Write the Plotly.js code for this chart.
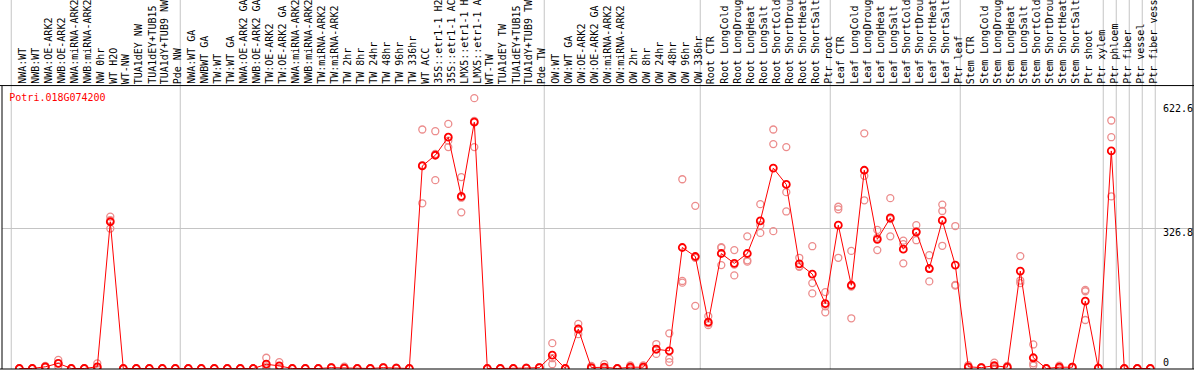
<!DOCTYPE html>
<html>
<head>
<meta charset="utf-8">
<script src="https://cdn.plot.ly/plotly-3.0.1.min.js"></script>
<style>
  html, body { margin: 0; padding: 0; background: #fff; }
  #chart { width: 1194px; height: 370px; }
</style>
</head>
<body>
<div id="chart"></div>
<script>
// ---- data ----
const categories = [
  "NWA:WT", "NWB:WT", "NWA:OE-ARK2", "NWB:OE-ARK2", "NWA:miRNA-ARK2", "NWB:miRNA-ARK2",
  "NW 0hr", "WT H2O", "WT-NW", "TUA1dEY NW", "TUA1dEY+TUB15", "TUA1dY+TUB9 NW", "Pde NW",
  "NWA:WT GA", "NWBWT GA", "TW:WT", "TW:WT GA", "NWA:OE-ARK2 GA", "NWB:OE-ARK2 GA",
  "TW:OE-ARK2", "TW:OE-ARK2 GA", "NWA:miRNA-ARK2", "NWB:miRNA-ARK2", "TW:miRNA-ARK2", "TW:miRNA-ARK2",
  "TW 2hr", "TW 8hr", "TW 24hr", "TW 48hr", "TW 96hr", "TW 336hr", "WT ACC",
  "35S::etr1-1 H2", "35S::etr1-1 AC", "LMX5::etr1-1 H", "LMX5::etr1-1 A",
  "WT-TW", "TUA1dEY TW", "TUA1dEY+TUB15", "TUA1dY+TUB9 TW", "Pde TW",
  "OW:WT", "OW:WT GA", "OW:OE-ARK2", "OW:OE-ARK2 GA", "OW:miRNA-ARK2", "OW:miRNA-ARK2",
  "OW 2hr", "OW 8hr", "OW 24hr", "OW 48hr", "OW 96hr", "OW 336hr",
  "Root CTR", "Root LongCold", "Root LongDroug", "Root LongHeat", "Root LongSalt",
  "Root ShortCold", "Root ShortDrou", "Root ShortHeat", "Root ShortSalt", "Ptr root",
  "Leaf CTR", "Leaf LongCold", "Leaf LongDroug", "Leaf LongHeat", "Leaf LongSalt",
  "Leaf ShortCold", "Leaf ShortDrou", "Leaf ShortHeat", "Leaf ShortSalt", "Ptr leaf",
  "Stem CTR", "Stem LongCold", "Stem LongDroug", "Stem LongHeat", "Stem LongSalt",
  "Stem ShortCold", "Stem ShortDrou", "Stem ShortHeat", "Stem ShortSalt", "Ptr shoot", "Ptr xylem",
  "Ptr phloem", "Ptr fiber", "Ptr vessel", "Ptr fiber vess"
];

const meanValues = [
  0, 0, 4, 12, 0, 0, 4, 342, 0, 0, 0, 0, 0,
  0, 0, 0, 0, 0, 0, 10, 6, 0, 0, 0, 2, 1, 0, 0, 2, 1, 0, 472,
  497, 539, 401, 574, 0, 0, 0, 1, 2,
  31, 0, 92, 2, 3, 0, 3, 3, 45, 41, 282, 261,
  108, 268, 245, 268, 344, 467, 429, 244, 220, 151,
  334, 194, 462, 301, 351, 278, 318, 233, 345, 241,
  4, 2, 6.5, 3, 227, 25, 0, 3, 3, 157, 1,
  507, 0, 0, 0
];

const rep1 = [
  0, 0, 6, 20, 0, 0, 12, 354, 0, 0, 0, 0, 0,
  0, 0, 0, 0, 0, 0, 25, 15, 0, 0, 0, 3, 4.5, 0, 0, 3, 2, 0, 557,
  553, 570, 446, 630, 0, 0, 0, 2, 3,
  59, 0, 104, 6, 10, 0, 7, 7, 57, 82, 441, 379,
  122, 283, 276, 308, 383, 557, 516, 258, 285, 178,
  377, 274, 548, 323, 397, 298, 334, 264, 382, 332,
  8, 3, 13.5, 6, 262, 56, 0, 6.5, 4, 183, 2,
  578, 0, 0, 0
];

const rep2 = [
  0, 0, 4, 12, 0, 0, 0, 346, 0, 0, 0, 0, 0,
  0, 0, 0, 0, 0, 0, 5, 2, 0, 0, 0, 2, 0, 0, 0, 2, 1, 0, 385,
  439, 516, 364, 516, 0, 0, 0, 1, 2,
  10, 0, 80, 0, 0, 0, 2, 2, 34, 23, 204, 146,
  101, 241, 217, 252, 316, 523, 411, 237, 199, 131,
  371, 117, 449, 276, 308, 245, 299, 203, 367, 195,
  2, 2, 4, 2, 199, 7, 0, 2, 2, 180, 1,
  539, 0, 0, 0
];

const rep3 = [
  0, 0, 2, 5, 0, 0, 0, 326, 0, 0, 0, 0, 0,
  0, 0, 0, 0, 0, 0, 0, 1, 0, 0, 0, 1, 0, 0, 0, 1, 0, 0, 474,
  500, 531, 398, 577, 0, 0, 0, 0, 1,
  24, 0, 92, 0, 0, 0, 0, 0, 44, 15, 200, 258,
  105, 281, 242, 249, 334, 320, 366, 238, 175, 145,
  258, 191, 392, 305, 348, 290, 320, 232, 286, 193,
  1, 1, 2, 1, 205, 12, 0, 0, 1, 113, 0,
  401, 0, 0, 0
];

const geneName = "Potri.018G074200";
const yTickValues = [0, 326.8, 622.6];
const yTickLabels = ["0", "326.8", "622.6"];
// index of the last category of each group (group separators)
const groupEnds = [-1, 12, 40, 52, 62, 72, 83, 84, 85, 86, 87];

// ---- layout helpers ----
const W = 1194, H = 370;
const M = { l: 2, r: 1, t: 86, b: 1 };
const plotW = W - M.l - M.r, plotH = H - M.t - M.b;
const xFirst = 19.3, xStep = 13;           // pixel of first category and spacing
const xMin = (M.l - xFirst) / xStep;
const xMax = (W - M.r - xFirst) / xStep;
const yPxPerUnit = 0.4291;
const yMin = -0.5 / yPxPerUnit;
const yMax = yMin + plotH / yPxPerUnit;

const xIdx = categories.map((_, i) => i);
const toPaperX = v => ((xFirst + xStep * v) - M.l) / plotW;
const pxToPaperY = py => (H - M.b - py) / plotH;

const red = "#ff0000";
const pink = "rgb(236,140,140)";
const mono = "DejaVu Sans Mono, monospace";

function repTrace(vals) {
  return {
    x: xIdx, y: vals, type: "scatter", mode: "markers",
    marker: { symbol: "circle-open", size: 7, color: pink, line: { width: 1.3, color: pink } },
    hoverinfo: "skip", showlegend: false
  };
}

const traces = [
  repTrace(rep1), repTrace(rep2), repTrace(rep3),
  {
    x: xIdx, y: meanValues, type: "scatter", mode: "lines+markers",
    line: { color: red, width: 1 },
    marker: { symbol: "circle-open", size: 7, color: red, line: { width: 1.8, color: red } },
    showlegend: false
  }
];

const shapes = [];
// group separators (full height, through the label band)
groupEnds.forEach(k => {
  const px = toPaperX(k + 0.38);
  shapes.push({ type: "line", xref: "paper", yref: "paper", x0: px, x1: px, y0: 0, y1: 1 + M.t / plotH + 0.01,
    line: { color: "#c4c4c4", width: 1 }, layer: "below" });
});
// black frame lines
shapes.push({ type: "line", xref: "paper", yref: "paper", x0: -0.01, x1: 1.01, y0: 1.0015, y1: 1.0015, line: { color: "#000", width: 1 } });
shapes.push({ type: "line", xref: "paper", yref: "paper", x0: -0.01, x1: 1.01, y0: 0, y1: 0, line: { color: "#000", width: 1.2 } });
shapes.push({ type: "line", xref: "paper", yref: "paper", x0: 0, x1: 0, y0: 0, y1: 1, line: { color: "#000", width: 1 } });
shapes.push({ type: "line", xref: "paper", yref: "paper", x0: 1, x1: 1, y0: 0, y1: 1 + M.t / plotH + 0.01, line: { color: "#000", width: 1 } });

const annotations = [];
// category labels, rotated, in the top band
categories.forEach((c, i) => {
  annotations.push({
    text: c, xref: "x", yref: "paper", x: i, y: 1, xshift: 2.5, yshift: 1,
    xanchor: "center", yanchor: "bottom", textangle: -90, showarrow: false,
    font: { family: mono, size: 10, color: "#000" }, borderpad: 0
  });
});
// y tick labels inside the plot, right side
const yLabelPx = [362, 232.7, 108.7];
yTickLabels.forEach((t, k) => {
  annotations.push({
    text: t, xref: "paper", yref: "paper", x: (1162 - M.l) / plotW, y: pxToPaperY(yLabelPx[k]),
    xanchor: "left", yanchor: "middle", showarrow: false, borderpad: 0,
    font: { family: mono, size: 10, color: "#000" }
  });
});

const layout = {
  width: W, height: H,
  margin: M,
  paper_bgcolor: "#fff", plot_bgcolor: "#fff",
  showlegend: false,
  title: {
    text: geneName, xref: "paper", yref: "paper",
    x: (9.3 - M.l) / plotW, xanchor: "left",
    y: pxToPaperY(97.5), yanchor: "middle",
    font: { family: mono, size: 10, color: red }
  },
  xaxis: {
    range: [xMin, xMax], showgrid: false, zeroline: false, showticklabels: false,
    showline: false, ticks: "", fixedrange: true
  },
  yaxis: {
    range: [yMin, yMax], tickmode: "array", tickvals: [yTickValues[1]], ticktext: [""],
    showgrid: true, gridcolor: "#c4c4c4", gridwidth: 1, zeroline: false,
    showticklabels: false, showline: false, ticks: "", fixedrange: true
  },
  shapes: shapes,
  annotations: annotations
};

Plotly.newPlot("chart", traces, layout, { staticPlot: true, displayModeBar: false });
</script>
</body>
</html>
